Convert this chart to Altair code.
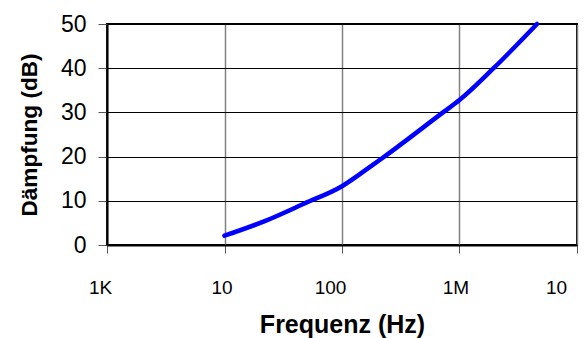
import altair as alt
import pandas as pd

freq_hz = [10000, 22000, 48000, 100000, 178000, 224000, 724000, 1000000, 1950000, 4570000]
daempfung_db = [2.1, 5.4, 9.4, 13.3, 17.9, 19.8, 30.0, 32.8, 40.0, 50.0]

x_tick_values = [1000, 10000, 100000, 1000000, 10000000]
x_tick_labels = ["1K", "10", "100", "1M", "10"]
y_tick_values = [0, 10, 20, 30, 40, 50]

df = pd.DataFrame({"f": freq_hz, "d": daempfung_db})

label_map = "{" + ", ".join(f"'{v}': '{t}'" for v, t in zip(x_tick_values, x_tick_labels)) + "}"

FONT = "Liberation Sans"

chart = alt.Chart(df).mark_line(
    color="#0000ff", strokeWidth=4.5, interpolate="monotone", strokeCap="round"
).encode(
    x=alt.X(
        "f:Q",
        scale=alt.Scale(type="log", domain=[1000, 10000000], nice=False),
        axis=alt.Axis(
            title="Frequenz (Hz)",
            values=x_tick_values,
            labelExpr=f"{label_map}[''+datum.value]",
            labelOffset={"expr": "datum.value == 1000 ? -7 : datum.value == 10000 ? -3 : datum.value == 100000 ? -12 : datum.value == 1000000 ? -4 : -21"},
            grid=True,
            gridColor="#808080",
            gridWidth=1.5,
            domainColor="#000000",
            domainWidth=2,
            tickColor="#555555",
            tickWidth=1,
            tickSize=8,
            labelPadding=25,
            labelFontSize=19,
            labelFont=FONT,
            labelColor="#000000",
            titleFont=FONT,
            titleFontSize=25,
            titleFontWeight="bold",
            titleColor="#000000",
            titlePadding=15,
            labelFlush=False,
            labelOverlap=False,
        ),
    ),
    y=alt.Y(
        "d:Q",
        scale=alt.Scale(domain=[0, 50], nice=False),
        axis=alt.Axis(
            title="Dämpfung (dB)",
            values=y_tick_values,
            grid=True,
            gridColor="#000000",
            gridWidth=1,
            domainColor="#000000",
            domainWidth=2,
            tickColor="#555555",
            tickWidth=1,
            tickSize=9,
            labelPadding=12,
            labelFontSize=23,
            labelFont=FONT,
            labelColor="#000000",
            titleFont=FONT,
            titleFontSize=22.6,
            titleFontWeight="bold",
            titleColor="#000000",
            titlePadding=19,
            labelFlush=False,
        ),
    ),
).properties(
    width=470,
    height=221,
    padding={"left": 99, "top": 16, "right": 3, "bottom": 100},
    autosize="none",
).configure_view(
    stroke="#000000",
    strokeWidth=2,
)

chart.save("out.html", embed_options={"renderer": "svg", "actions": False})
